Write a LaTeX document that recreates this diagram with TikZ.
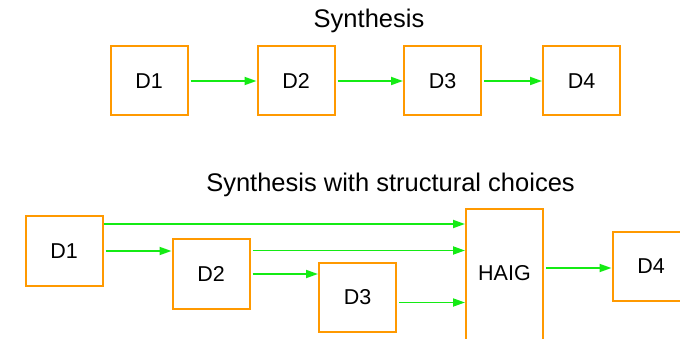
\documentclass[tikz,border=0pt]{standalone}
\usepackage{fontspec}
\setmainfont{Liberation Sans}
\usetikzlibrary{arrows.meta,positioning}
\definecolor{blockColor}{RGB}{255,153,0}
\definecolor{flowColor}{RGB}{20,235,20}
\tikzset{block/.style={draw=blockColor, line width=2pt, minimum width=77pt, minimum height=69pt, inner sep=0pt, font=\fontsize{21.5}{25}\selectfont}}
\tikzset{heading/.style={anchor=base, font=\fontsize{25.5}{30}\selectfont}}
\tikzset{flow/.style={draw=flowColor, line width=1.8pt, shorten <=2pt, -{Triangle[length=12pt,width=8pt]}}}

\begin{document}
\begin{tikzpicture}[x=1pt, y=-1pt]
\useasboundingbox (0,0) rectangle (680,339);
\clip (0,0) rectangle (680,339);

% Nodes: plain flow
\node (title1) [heading] at (369,28) {Synthesis};
\node (d1) [block] at (149,81) {D1};
\node (d2) [block] at (296,81) {D2};
\node (d3) [block] at (442.5,81) {D3};
\node (d4) [block] at (581.5,81) {D4};

% Nodes: with choices
\node (title2) [heading] at (390.5,192) {Synthesis with structural choices};
\node (s1) [block] at (64,251) {D1};
\node (s2) [block] at (211,274) {D2};
\node (s3) [block] at (357.5,297.5) {D3};
\node (haig) [block, anchor=north, text height=71pt, text depth=100pt] at (504.5,208) {HAIG};
\node (s4) [block] at (651,266.5) {D4};

% Connectors
\draw[flow] (d1) -- (d2);
\draw[flow] (d2) -- (d3);
\draw[flow] (d3) -- (d4);

\draw[flow, shorten <=0pt] ([yshift=-8.5pt]s1.north east) coordinate (a) -- (a -| haig.west);
\draw[flow] (s1.east) -- (s1.east -| s2.west);
\draw[flow] ([yshift=-12pt]s2.north east) coordinate (b) -- (b -| haig.west);
\draw[flow] (s2.east) -- (s2.east -| s3.west);
\draw[flow] ([yshift=-5pt]s3.east) coordinate (c) -- (c -| haig.west);
\draw[flow] ([yshift=-1.5pt]haig.east |- s4.west) coordinate (e) -- (e -| s4.west);

\end{tikzpicture}
\end{document}
